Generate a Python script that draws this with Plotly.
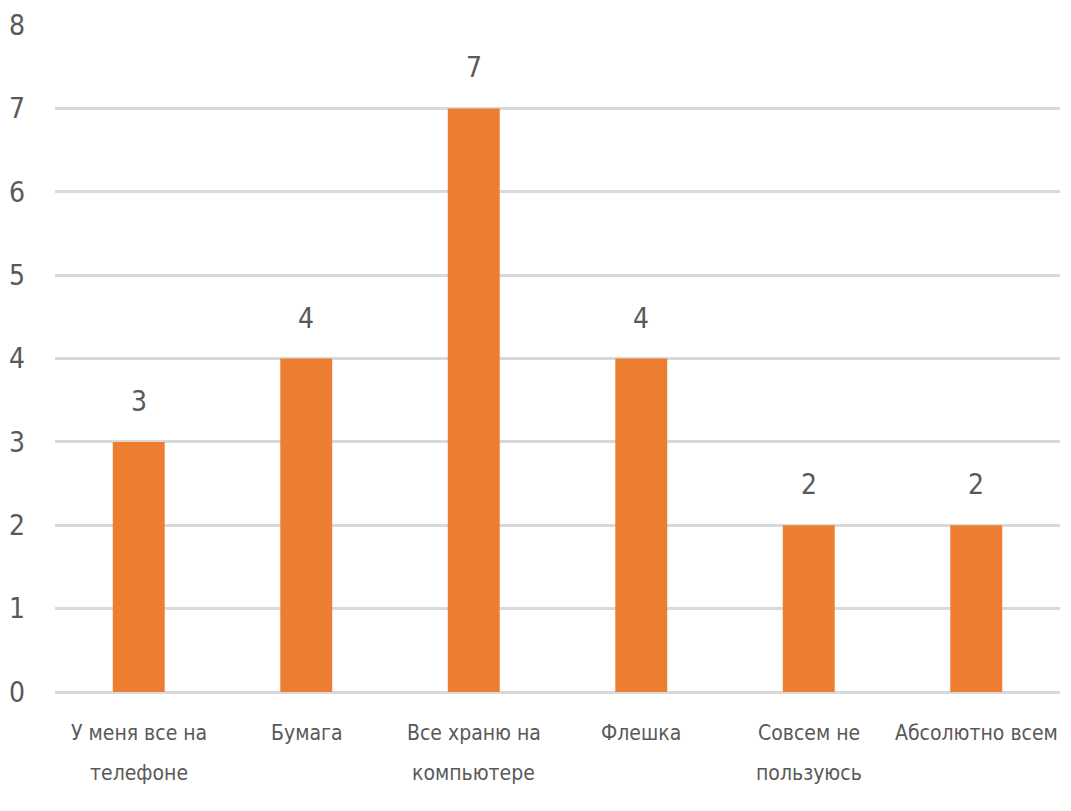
import plotly.graph_objects as go

categories = ["У меня все на телефоне", "Бумага", "Все храню на компьютере",
              "Флешка", "Совсем не пользуюсь", "Абсолютно всем"]
label_line1 = ["У меня все на", "Бумага", "Все храню на", "Флешка", "Совсем не", "Абсолютно всем"]
label_line2 = ["телефоне", "", "компьютере", "", "пользуюсь", ""]
values = [3, 4, 7, 4, 2, 2]
y_ticks = [0, 1, 2, 3, 4, 5, 6, 7, 8]

FONT = "DejaVu Sans Condensed, Liberation Sans Narrow, sans-serif"
TXT = "#595959"

fig = go.Figure()
fig.add_trace(go.Bar(x=categories, y=values, marker_color="#ED7D31",
                     marker_line_width=0, width=0.31))

for c, v in zip(categories, values):
    fig.add_annotation(x=c, y=v, text=str(v), showarrow=False, yanchor="bottom",
                       yshift=22, font=dict(family=FONT, size=28, color=TXT))

for c, l1, l2 in zip(categories, label_line1, label_line2):
    fig.add_annotation(x=c, y=0, yref="paper", text=l1, showarrow=False,
                       yanchor="middle", yshift=-41,
                       font=dict(family=FONT, size=21, color=TXT))
    if l2:
        fig.add_annotation(x=c, y=0, yref="paper", text=l2, showarrow=False,
                           yanchor="middle", yshift=-81,
                           font=dict(family=FONT, size=21, color=TXT))

fig.update_layout(
    width=1071, height=811,
    margin=dict(l=55, r=11, t=25, b=119, autoexpand=False),
    plot_bgcolor="white", paper_bgcolor="white",
    showlegend=False,
    font=dict(family=FONT, color=TXT),
)
fig.update_xaxes(showgrid=False, showline=False, ticks="", showticklabels=False,
                 automargin=False)
fig.update_yaxes(range=[0, 8], tickvals=y_ticks, showgrid=True, automargin=False,
                 gridcolor="#D9D9D9", gridwidth=2.5, zeroline=True,
                 zerolinecolor="#D9D9D9", zerolinewidth=2.5,
                 showline=False, ticks="",
                 tickfont=dict(family=FONT, size=28, color=TXT),
                 ticklabelstandoff=29)

fig.write_html("out.html")
